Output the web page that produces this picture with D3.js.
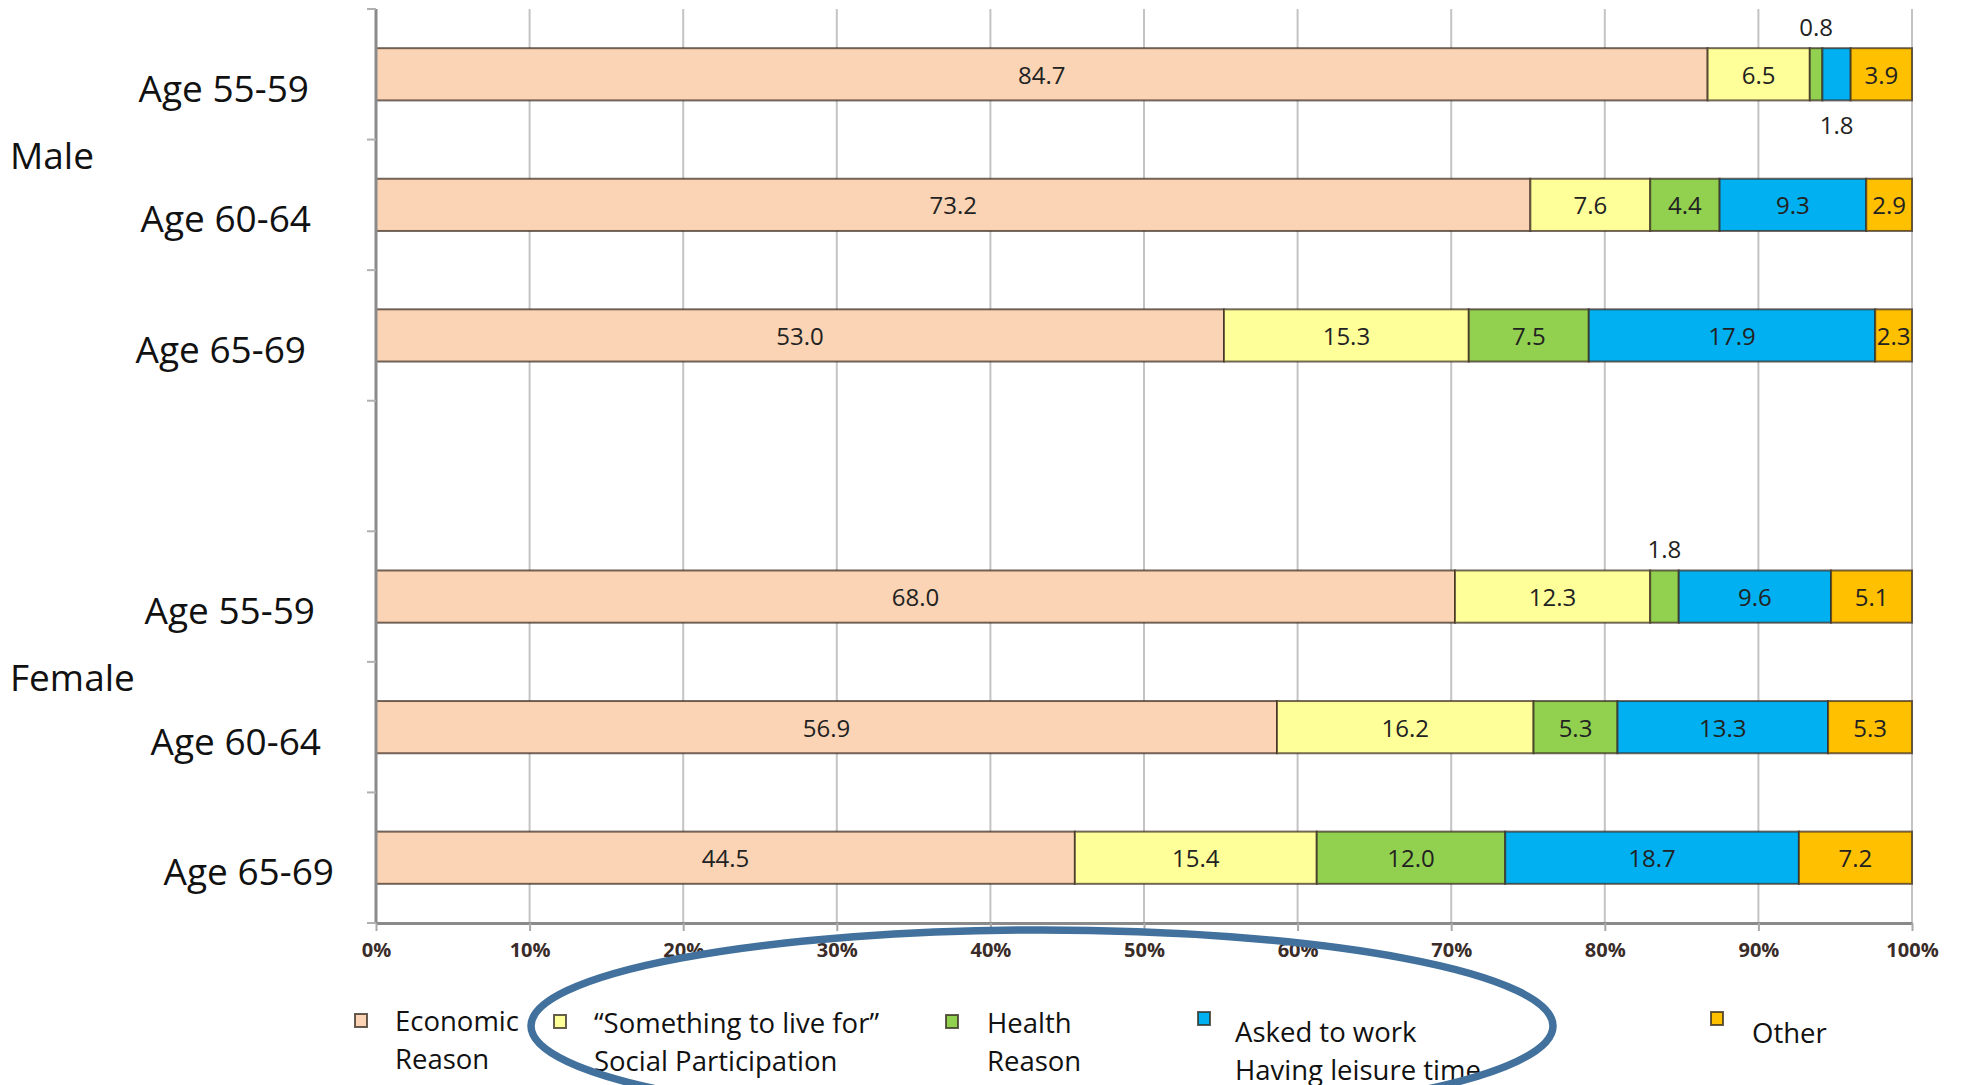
<!DOCTYPE html>
<html>
<head>
<meta charset="utf-8">
<script src="https://cdn.jsdelivr.net/npm/d3@7"></script>
<style>
  html, body { margin: 0; padding: 0; background: #fff; }
  svg { display: block; font-family: "Open Sans", "Noto Sans", sans-serif; }
</style>
</head>
<body>
<svg id="chart" width="1961" height="1085"></svg>
<script>
// Rows of the chart, top to bottom (an empty row separates the two groups)
const rowKeys   = ["M55", "M60", "M65", "gap", "F55", "F60", "F65"];
const ageLabels = ["Age 55-59", "Age 60-64", "Age 65-69", "", "Age 55-59", "Age 60-64", "Age 65-69"];
const groupLabels = ["Male", "Female"];
const groupRows   = [["M55", "M60", "M65"], ["F55", "F60", "F65"]];

// Reasons for working, % of respondents (rows: M55, M60, M65, F55, F60, F65)
const dataRows  = ["M55", "M60", "M65", "F55", "F60", "F65"];
const economic  = [84.7, 73.2, 53.0, 68.0, 56.9, 44.5];
const liveFor   = [6.5, 7.6, 15.3, 12.3, 16.2, 15.4];
const health    = [0.8, 4.4, 7.5, 1.8, 5.3, 12.0];
const askedWork = [1.8, 9.3, 17.9, 9.6, 13.3, 18.7];
const other     = [3.9, 2.9, 2.3, 5.1, 5.3, 7.2];

const seriesKeys   = ["economic", "liveFor", "health", "askedWork", "other"];
const seriesColors = ["#FAD4B4", "#FFFF99", "#92D050", "#00B0F0", "#FFC000"];
const legendLines  = [
  ["Economic", "Reason"],
  ["\u201CSomething to live for\u201D", "Social Participation"],
  ["Health", "Reason"],
  ["Asked to work", "Having leisure time"],
  ["Other"]
];
const xTickValues = [0, 0.1, 0.2, 0.3, 0.4, 0.5, 0.6, 0.7, 0.8, 0.9, 1.0];

// Table built from the arrays above
const table = dataRows.map((row, i) => ({
  row,
  economic: economic[i],
  liveFor: liveFor[i],
  health: health[i],
  askedWork: askedWork[i],
  other: other[i]
}));

const svg = d3.select("#chart");

const plot = { left: 376, right: 1912, top: 9, bottom: 923 };

const x = d3.scaleLinear().domain([0, 1]).range([plot.left, plot.right]);
const y = d3.scaleBand().domain(rowKeys).range([plot.top, plot.bottom])
  .paddingInner(0.6).paddingOuter(0.3);
const color = d3.scaleOrdinal().domain(seriesKeys).range(seriesColors);

// 100% stacked layout
const stacked = d3.stack().keys(seriesKeys).offset(d3.stackOffsetExpand)(table);

// Vertical gridlines
svg.append("g")
  .selectAll("line")
  .data(xTickValues.slice(1))
  .join("line")
  .attr("x1", d => x(d)).attr("x2", d => x(d))
  .attr("y1", plot.top).attr("y2", plot.bottom)
  .attr("stroke", "#c4c4c4")
  .attr("stroke-width", 2);

// Stacked bars
const layers = svg.append("g")
  .selectAll("g")
  .data(stacked)
  .join("g")
  .attr("fill", d => color(d.key));

layers.selectAll("rect")
  .data(d => d.map(v => ({ key: d.key, v })))
  .join("rect")
  .attr("x", d => x(d.v[0]))
  .attr("y", d => y(d.v.data.row))
  .attr("width", d => x(d.v[1]) - x(d.v[0]))
  .attr("height", y.bandwidth())
  .attr("stroke", "rgba(55,40,30,0.7)")
  .attr("stroke-width", 2);

// Bottom axis
const xAxis = d3.axisBottom(x)
  .tickValues(xTickValues)
  .tickFormat(d3.format(".0%"))
  .tickSize(8)
  .tickSizeOuter(0)
  .tickPadding(12);

const gx = svg.append("g")
  .attr("transform", `translate(0,${plot.bottom})`)
  .call(xAxis);
gx.select(".domain").attr("stroke", "#8a8a8a").attr("stroke-width", 3);
gx.selectAll(".tick line").attr("stroke", "#a8a8a8").attr("stroke-width", 2);
gx.selectAll(".tick text")
  .attr("font-family", "'Open Sans', sans-serif")
  .attr("font-size", 20)
  .attr("font-weight", 700)
  .attr("fill", "#3a2c28");

// Left axis: line plus tick marks at the row boundaries
const boundaries = d3.range(rowKeys.length + 1).map(i => plot.top + i * y.step());
const gy = svg.append("g");
gy.append("line")
  .attr("x1", plot.left).attr("x2", plot.left)
  .attr("y1", plot.top).attr("y2", plot.bottom)
  .attr("stroke", "#8a8a8a").attr("stroke-width", 3);
gy.selectAll("line.tick")
  .data(boundaries)
  .join("line")
  .attr("class", "tick")
  .attr("x1", plot.left - 9).attr("x2", plot.left)
  .attr("y1", d => d).attr("y2", d => d)
  .attr("stroke", "#b0b0b0").attr("stroke-width", 2);

// Row labels
const labelNudge = [0, 2, -3, 0, 6, 12, 25];
svg.append("g")
  .selectAll("text")
  .data(rowKeys.map((k, i) => ({ k, label: ageLabels[i], nudge: labelNudge[i] })).filter(d => d.label))
  .join("text")
  .attr("x", d => 309 + d.nudge)
  .attr("y", d => y(d.k) + y.bandwidth() / 2 + 13)
  .attr("text-anchor", "end")
  .attr("dominant-baseline", "central")
  .attr("font-size", 37)
  .attr("fill", "#111")
  .text(d => d.label);

// Group labels, centred between the first and second rows of each group
svg.append("g")
  .selectAll("text")
  .data(groupLabels.map((g, i) => ({ g, rows: groupRows[i] })))
  .join("text")
  .attr("x", 10)
  .attr("y", d => (y(d.rows[0]) + y(d.rows[1]) + y.bandwidth()) / 2 + 15)
  .attr("dominant-baseline", "central")
  .attr("font-size", 37)
  .attr("fill", "#111")
  .text(d => d.g);

// Value labels: inside the segment, or just outside it for tiny segments
const fmt = d3.format(".1f");
const valueLabels = [];
stacked.forEach(layer => {
  layer.forEach(v => {
    valueLabels.push({ key: layer.key, row: v.data.row, value: v.data[layer.key], x0: v[0], x1: v[1] });
  });
});
const smallCount = {};
valueLabels.forEach(d => {
  if (d.value < 2) {
    const n = smallCount[d.row] || 0;
    d.place = n === 0 ? "above" : "below";
    smallCount[d.row] = n + 1;
  } else {
    d.place = "inside";
  }
});

svg.append("g")
  .selectAll("text")
  .data(valueLabels)
  .join("text")
  .attr("x", d => (x(d.x0) + x(d.x1)) / 2)
  .attr("y", d => {
    const top = y(d.row);
    if (d.place === "above") return top - 22;
    if (d.place === "below") return top + y.bandwidth() + 24;
    return top + y.bandwidth() / 2;
  })
  .attr("text-anchor", "middle")
  .attr("dominant-baseline", "central")
  .attr("font-size", 24)
  .attr("fill", "#222")
  .text(d => fmt(d.value));

// Legend
const legendPos = [
  { sx: 361, sy: 1021, tx: 395, ty: 1020 },
  { sx: 560, sy: 1022, tx: 594, ty: 1022 },
  { sx: 952, sy: 1022, tx: 987, ty: 1022 },
  { sx: 1204, sy: 1019, tx: 1235, ty: 1031 },
  { sx: 1717, sy: 1019, tx: 1752, ty: 1032 }
];
const legend = svg.append("g")
  .selectAll("g")
  .data(seriesKeys.map((k, i) => ({ k, lines: legendLines[i], p: legendPos[i] })))
  .join("g");

legend.append("rect")
  .attr("x", d => d.p.sx - 6).attr("y", d => d.p.sy - 7)
  .attr("width", 12).attr("height", 13)
  .attr("fill", d => color(d.k))
  .attr("stroke", "rgba(50,40,30,0.75)")
  .attr("stroke-width", 2);

legend.append("text")
  .attr("x", d => d.p.tx)
  .attr("font-size", 27.5)
  .attr("fill", "#111")
  .selectAll("tspan")
  .data(d => d.lines.map((t, j) => ({ t, y: d.p.ty + j * 38 })))
  .join("tspan")
  .attr("x", function () { return d3.select(this.parentNode).attr("x"); })
  .attr("y", d => d.y)
  .attr("dominant-baseline", "central")
  .text(d => d.t);

// Highlight oval around the middle legend entries
svg.append("ellipse")
  .attr("cx", 1042)
  .attr("cy", 1026)
  .attr("rx", 511)
  .attr("ry", 96)
  .attr("fill", "none")
  .attr("stroke", "#41719C")
  .attr("stroke-width", 7.5);
</script>
</body>
</html>
